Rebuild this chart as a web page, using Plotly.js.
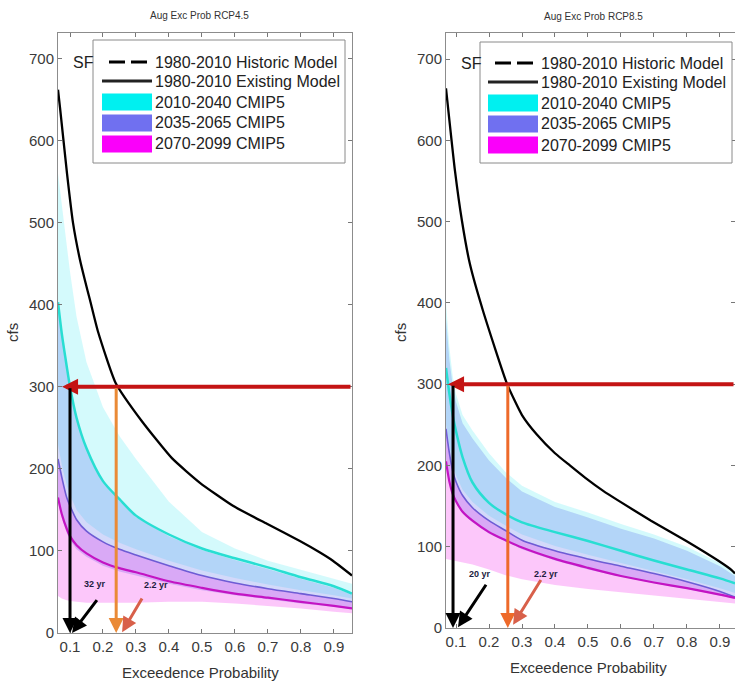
<!DOCTYPE html>
<html>
<head>
<meta charset="utf-8">
<script src="https://cdn.plot.ly/plotly-3.0.1.min.js"></script>
<style>html,body{margin:0;padding:0;background:#fff}#chart{width:735px;height:681px}</style>
</head>
<body>
<div id="chart"></div>
<script>
// ---------- data ----------
const panelTitles = ['Aug Exc Prob RCP4.5', 'Aug Exc Prob RCP8.5'];
const xTickVals = [0.1, 0.2, 0.3, 0.4, 0.5, 0.6, 0.7, 0.8, 0.9];
const yTickVals = [0, 100, 200, 300, 400, 500, 600, 700];
const legendLabels = ['1980-2010 Historic Model', '1980-2010 Existing Model', '2010-2040 CMIP5', '2035-2065 CMIP5', '2070-2099 CMIP5'];

// Left panel (RCP4.5)
const pExistL = [0.0636, 0.0697, 0.0909, 0.109, 0.130, 0.145, 0.161, 0.185, 0.238, 0.318, 0.409, 0.494, 0.594, 0.697, 0.797, 0.858, 0.897, 0.955];
const existL  = [662, 640, 560, 500, 455, 430, 405, 367, 305, 258, 213, 183, 155, 133, 112, 98, 88, 70];
const pL = [0.0636, 0.075, 0.09, 0.1, 0.12, 0.15, 0.2, 0.25, 0.3, 0.4, 0.5, 0.6, 0.7, 0.8, 0.9, 0.955];
const c1MedL = [403, 365, 325, 300, 262, 225, 185, 163, 143, 120, 103, 91, 80, 68, 57, 48];
const c1HiL  = [560, 520, 470, 440, 385, 330, 275, 240, 212, 160, 123, 103, 88, 77, 66, 60];
const c1LoL  = [230, 205, 180, 168, 150, 135, 120, 110, 102, 88, 76, 67, 59, 52, 46, 42];
const c2MedL = [212, 190, 165, 155, 138, 124, 111, 102, 95, 82, 70, 61, 54, 48, 42, 38];
const c2HiL  = [400, 362, 322, 298, 260, 223, 183, 161, 141, 118, 101, 89, 78, 66, 55, 47];
const c2LoL  = [160, 140, 122, 113, 102, 93, 82, 75, 70, 60, 52, 46, 41, 36, 32, 29];
const c3MedL = [165, 145, 127, 118, 107, 97, 86, 79, 74, 63, 55, 48, 43, 38, 33, 30];
const c3HiL  = [212, 190, 165, 155, 138, 124, 111, 102, 95, 82, 70, 61, 54, 48, 42, 38];
const c3LoL  = [45, 42, 40, 39, 38, 37, 37, 37, 37, 38, 38, 36, 33, 30, 26, 24];

// Right panel (RCP8.5)
const pExistR = [0.0697, 0.097, 0.118, 0.142, 0.182, 0.255, 0.3, 0.345, 0.4, 0.445, 0.491, 0.545, 0.591, 0.691, 0.794, 0.894, 0.936, 0.9455];
const existR  = [664, 562, 501, 448, 390, 300, 262, 238, 215, 200, 185, 169, 157, 132, 108, 83, 71, 67];
const pR = [0.0697, 0.08, 0.09, 0.1, 0.12, 0.15, 0.2, 0.25, 0.3, 0.4, 0.5, 0.6, 0.7, 0.8, 0.9, 0.9455];
const c1MedR = [320, 288, 262, 242, 210, 179, 154, 140, 130, 118, 107, 95, 83, 72, 61, 55];
const c1HiR  = [400, 345, 310, 288, 262, 243, 215, 192, 175, 155, 142, 128, 115, 100, 80, 67];
const c1LoR  = [250, 222, 200, 188, 170, 155, 138, 126, 115, 101, 90, 80, 70, 60, 49, 43];
const c2MedR = [245, 215, 193, 180, 163, 148, 132, 120, 108, 95, 85, 76, 67, 57, 45, 38];
const c2HiR  = [380, 330, 298, 278, 252, 233, 206, 185, 168, 149, 136, 122, 110, 95, 76, 64];
const c2LoR  = [200, 178, 163, 154, 141, 130, 116, 106, 97, 83, 72, 63, 55, 48, 40, 36];
const c3MedR = [205, 180, 165, 156, 143, 132, 118, 108, 99, 85, 74, 64, 56, 49, 41, 37];
const c3HiR  = [245, 215, 193, 180, 163, 148, 132, 120, 108, 95, 85, 76, 67, 57, 45, 38];
const c3LoR  = [85, 84, 83, 82, 80, 78, 72, 65, 60, 53, 48, 44, 40, 36, 32, 30];

// threshold and exceedance arrows
const threshold = 300;
const arrowStartL = 0.955, arrowEndL = 0.076;
const arrowStartR = 0.9455, arrowEndR = 0.076;
const exceedFutureL = 0.1, exceedExistL = 0.24;
const exceedFutureR = 0.091, exceedExistR = 0.257;
const returnLabelsL = ['32 yr', '2.2 yr'];
const returnLabelsR = ['20 yr', '2.2 yr'];
// label pointer arrows: [tailP, tailV, headP, headV, labelP, labelV]
const ptrL = [[0.185, 42, 0.106, 0, 0.176, 60], [0.321, 44, 0.258, 1, 0.36, 58]];
const ptrR = [[0.194, 55, 0.106, 1, 0.173, 67], [0.36, 61, 0.273, 4, 0.372, 67]];

// ---------- styling ----------
const W = 735, H = 681;
const px = x => x / W;
const py = y => 1 - y / H;
const FONT = 'Liberation Sans, Arial, sans-serif';
const COL = {
  cyanFill: 'rgba(0,225,240,0.17)', purpFill: 'rgba(80,105,235,0.25)', magFill: 'rgba(240,0,230,0.22)',
  cyan: 'rgb(40,222,210)', purp: 'rgb(110,92,212)', mag: 'rgb(195,20,195)',
  cyanLeg: 'rgb(0,240,240)', purpLeg: 'rgb(112,112,240)', magLeg: 'rgb(250,0,250)'
};

function panelTraces(xa, ya, p, bands, meds, pEx, ex) {
  const t = [];
  const fills = [COL.cyanFill, COL.purpFill, COL.magFill];
  bands.forEach((b, i) => {
    t.push({x: p, y: b[0], xaxis: xa, yaxis: ya, mode: 'lines', line: {width: 0, color: 'rgba(0,0,0,0)'}, showlegend: false, hoverinfo: 'skip'});
    t.push({x: p, y: b[1], xaxis: xa, yaxis: ya, mode: 'lines', line: {width: 0, color: 'rgba(0,0,0,0)'}, fill: 'tonexty', fillcolor: fills[i], showlegend: false, hoverinfo: 'skip'});
  });
  const medCols = [COL.cyan, COL.purp, COL.mag];
  const medW = [2.5, 1.6, 2.2];
  meds.forEach((m, i) => {
    t.push({x: p, y: m, xaxis: xa, yaxis: ya, mode: 'lines', line: {color: medCols[i], width: medW[i], shape: 'spline', smoothing: 0.8}, name: legendLabels[i + 2], showlegend: false});
  });
  t.push({x: pEx, y: ex, xaxis: xa, yaxis: ya, mode: 'lines', line: {color: '#000', width: 2.3, shape: 'spline', smoothing: 0.5}, name: legendLabels[1], showlegend: false});
  return t;
}

const data = [].concat(
  panelTraces('x', 'y', pL, [[c1LoL, c1HiL], [c2LoL, c2HiL], [c3LoL, c3HiL]], [c1MedL, c2MedL, c3MedL], pExistL, existL),
  panelTraces('x2', 'y2', pR, [[c1LoR, c1HiR], [c2LoR, c2HiR], [c3LoR, c3HiR]], [c1MedR, c2MedR, c3MedR], pExistR, existR)
);

const axisBase = {
  showline: true, linecolor: '#8c8c8c', linewidth: 1, mirror: 'ticks',
  ticks: 'inside', ticklen: 4, tickcolor: '#777', tickwidth: 1,
  showgrid: false, zeroline: false, fixedrange: true,
  tickfont: {family: FONT, size: 15, color: '#3a3a3a'}
};
const xAx = (dom, rng, anchor) => Object.assign({}, axisBase, {domain: dom, range: rng, anchor: anchor, tickvals: xTickVals, ticktext: xTickVals.map(v => v.toFixed(1))});
const yAx = (dom, rng, anchor) => Object.assign({}, axisBase, {domain: dom, range: rng, anchor: anchor, tickvals: yTickVals, ticktext: yTickVals.map(String)});

const annotations = [];
const shapes = [];
function txt(x, y, text, size, opts) {
  annotations.push(Object.assign({xref: 'paper', yref: 'paper', x: px(x), y: py(y), text: text, showarrow: false,
    font: {family: FONT, size: size, color: '#333'}, xanchor: 'center', yanchor: 'middle'}, opts || {}));
}
// titles and axis labels
txt(199, 16, panelTitles[0], 10);
txt(593, 17, panelTitles[1], 10);
txt(200, 672, 'Exceedence Probability', 15);
txt(588, 667, 'Exceedence Probability', 15);
txt(12, 333, 'cfs', 15, {textangle: -90});
txt(400, 333, 'cfs', 15, {textangle: -90});
txt(71, 62, 'SF', 16, {xanchor: 'left', font: {family: FONT, size: 16, color: '#222'}});
txt(459, 63, 'SF', 16, {xanchor: 'left', font: {family: FONT, size: 16, color: '#222'}});

// arrows in data coordinates
function arrow(xa, ya, tailP, tailV, headP, headV, color, width, size) {
  annotations.push({xref: xa, yref: ya, axref: xa, ayref: ya, x: headP, y: headV, ax: tailP, ay: tailV,
    text: '', showarrow: true, arrowhead: 2, arrowsize: size, arrowwidth: width, arrowcolor: color, standoff: 0, startstandoff: 0});
}
arrow('x', 'y', arrowStartL, threshold, arrowEndL, threshold, '#c41414', 4, 0.8);
arrow('x', 'y', exceedFutureL, threshold, exceedFutureL, 0, '#000', 3, 1.0);
arrow('x', 'y', exceedExistL, threshold, exceedExistL, 0, '#ea8a36', 3, 1.0);
arrow('x2', 'y2', arrowStartR, threshold, arrowEndR, threshold, '#c41414', 4, 0.8);
arrow('x2', 'y2', exceedFutureR, threshold, exceedFutureR, 0, '#000', 3, 1.0);
arrow('x2', 'y2', exceedExistR, threshold, exceedExistR, 0, '#ee6a2a', 3, 1.0);
const ptrCols = ['#000', '#d8604a'];
ptrL.forEach((a, i) => {
  arrow('x', 'y', a[0], a[1], a[2], a[3], ptrCols[i], 3, 1.0);
  annotations.push({xref: 'x', yref: 'y', x: a[4], y: a[5], text: '<b>' + returnLabelsL[i] + '</b>', showarrow: false,
    font: {family: FONT, size: 9, color: '#1c1c40'}});
});
ptrR.forEach((a, i) => {
  arrow('x2', 'y2', a[0], a[1], a[2], a[3], ptrCols[i], 3, 1.0);
  annotations.push({xref: 'x2', yref: 'y2', x: a[4], y: a[5], text: '<b>' + returnLabelsR[i] + '</b>', showarrow: false,
    font: {family: FONT, size: 9, color: '#1c1c40'}});
});

// legends (drawn as boxes)
function legend(x0, y0, x1, y1, rows, symX0, symX1, textX) {
  shapes.push({type: 'rect', xref: 'paper', yref: 'paper', x0: px(x0), x1: px(x1), y0: py(y1), y1: py(y0),
    line: {color: '#8a8a8a', width: 1}, fillcolor: '#fff', layer: 'above'});
  shapes.push({type: 'line', xref: 'paper', yref: 'paper', x0: px(symX0 + 7), x1: px(symX1 - 3), y0: py(rows[0]), y1: py(rows[0]),
    line: {color: '#000', width: 3, dash: '16px,6px'}, layer: 'above'});
  shapes.push({type: 'line', xref: 'paper', yref: 'paper', x0: px(symX0), x1: px(symX1), y0: py(rows[1]), y1: py(rows[1]),
    line: {color: '#222', width: 3}, layer: 'above'});
  [COL.cyanLeg, COL.purpLeg, COL.magLeg].forEach((c, i) => {
    const r = rows[i + 2];
    shapes.push({type: 'rect', xref: 'paper', yref: 'paper', x0: px(symX0), x1: px(symX1), y0: py(r + 8.5), y1: py(r - 8.5),
      line: {width: 0}, fillcolor: c, layer: 'above'});
  });
  legendLabels.forEach((l, i) => {
    txt(textX, rows[i], l, 16, {xanchor: 'left', font: {family: FONT, size: 16, color: '#222'}});
  });
}
legend(93, 40, 345, 163, [62, 81, 102, 123, 144], 102, 152, 153);
legend(480, 42, 732, 163, [63, 82, 103, 124, 145], 488, 538, 539);

const layout = {
  width: W, height: H, margin: {l: 0, r: 0, t: 0, b: 0},
  paper_bgcolor: '#fff', plot_bgcolor: '#fff', showlegend: false,
  xaxis: xAx([px(58), px(352)], [0.0636, 0.955], 'y'),
  yaxis: yAx([py(633), py(33)], [0, 731], 'x'),
  xaxis2: xAx([px(446), 1], [0.0697, 0.9455], 'y2'),
  yaxis2: yAx([py(628), py(33)], [0, 732], 'x2'),
  annotations: annotations, shapes: shapes
};
Plotly.newPlot('chart', data, layout, {displayModeBar: false, staticPlot: true});
</script>
</body>
</html>
